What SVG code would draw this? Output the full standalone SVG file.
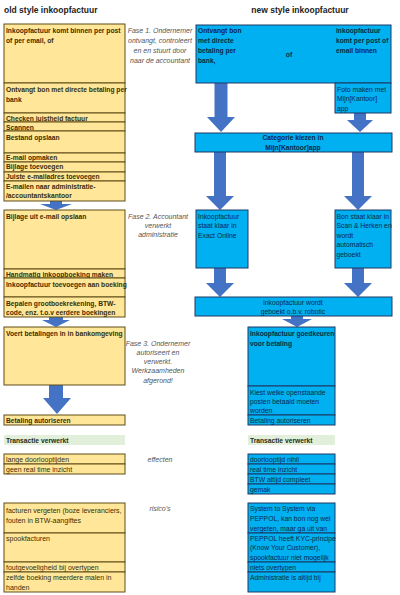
<svg xmlns="http://www.w3.org/2000/svg" width="400" height="595" viewBox="0 0 400 595">
<style>
text{font-family:"Liberation Sans",Arial,sans-serif;}
.t{font-size:8.5px;font-weight:bold;fill:#222;}
.y{fill:#FFE699;stroke:#5e4d16;stroke-width:1;}
.b{fill:#00B0F0;stroke:#1f3864;stroke-width:1;}
.g{fill:#E2EFDA;stroke:none;}
.yb{font-size:6.7px;font-weight:bold;fill:#3a2e05;}
.yn{font-size:7px;fill:#3a2e05;}
.bb{font-size:6.7px;font-weight:bold;fill:#0b2a4a;}
.bn{font-size:6.8px;fill:#0b2a4a;}
.gb{font-size:6.7px;font-weight:bold;fill:#1e2e14;}
.ph{font-size:7px;font-style:italic;fill:#555;text-anchor:middle;}
.c{text-anchor:middle;}
.ar{fill:#4472C4;stroke:none;}
</style>
<text class="t" x="4" y="13">old style inkoopfactuur</text>
<text class="t c" x="300" y="13">new style inkoopfactuur</text>

<g id="connectors">
<path class="ar" d="M50,201 L62,201 L62,204 L72,204 L56,210 L40,204 L50,204 Z"/>
<path class="ar" d="M49,317 L63,317 L63,320 L70,320 L56,327 L42,320 L49,320 Z"/>
<path class="ar" d="M49,385 L63,385 L63,398 L71,398 L57,414 L43,398 L49,398 Z"/>
<path class="ar" d="M214.5,83 L227.5,83 L227.5,117 L235,117 L221,132 L207,117 L214.5,117 Z"/>
<path class="ar" d="M354,113 L366,113 L366,120 L373,120 L360,132 L347,120 L354,120 Z"/>
<path class="ar" d="M214,152 L226,152 L226,196 L234,196 L220,210 L206,196 L214,196 Z"/>
<path class="ar" d="M352,152 L364,152 L364,196 L372,196 L358,210 L344,196 L352,196 Z"/>
<path class="ar" d="M214,268 L226,268 L226,283 L234,283 L220,297 L206,283 L214,283 Z"/>
<path class="ar" d="M352,268 L364,268 L364,283 L372,283 L358,297 L344,283 L352,283 Z"/>
<path class="ar" d="M291,316 L303,316 L303,319 L312,319 L297,327 L282,319 L291,319 Z"/>
</g>

<g id="fase1"><text class="ph" x="160" y="32.5">Fase 1. Ondernemer</text><text class="ph" x="160" y="42.5">ontvangt, controleert</text><text class="ph" x="160" y="52.5">en  en stuurt door</text><text class="ph" x="160" y="62.5">naar de accountant</text></g>
<g id="fase2"><text class="ph" x="158" y="218.5">Fase 2. Accountant</text><text class="ph" x="158" y="227.5">verwerkt</text><text class="ph" x="158" y="236.5">administratie</text></g>
<g id="fase3"><text class="ph" x="158" y="345.5">Fase 3. Ondernemer</text><text class="ph" x="158" y="354.5">autoriseert en</text><text class="ph" x="158" y="363.5">verwerkt.</text><text class="ph" x="158" y="373">Werkzaamheden</text><text class="ph" x="158" y="382.5">afgerond!</text></g>
<g id="effecten"><text class="ph" x="160" y="462">effecten</text></g>
<g id="risicos"><text class="ph" x="160" y="510.5">risico's</text></g>

<g id="L1"><rect class="y" x="4" y="24" width="121" height="59"/><text class="yb" x="6" y="32.5">Inkoopfactuur komt binnen per post</text><text class="yb" x="6" y="42.5">of per email, of</text></g>
<g id="L2"><rect class="y" x="4" y="83" width="121" height="30"/><text class="yb" x="6" y="91.5">Ontvangt bon met directe betaling per</text><text class="yb" x="6" y="101.5">bank</text></g>
<g id="L3"><rect class="y" x="4" y="113" width="121" height="9"/><text class="yb" x="6" y="120.5">Checken juistheid factuur</text></g>
<g id="L4"><rect class="y" x="4" y="122" width="121" height="9"/><text class="yb" x="6" y="129.5">Scannen</text></g>
<g id="L5"><rect class="y" x="4" y="131" width="121" height="22"/><text class="yb" x="6" y="139.5">Bestand opslaan</text></g>
<g id="L6"><rect class="y" x="4" y="153" width="121" height="9"/><text class="yb" x="6" y="160">E-mail opmaken</text></g>
<g id="L7"><rect class="y" x="4" y="162" width="121" height="10"/><text class="yb" x="6" y="169">Bijlage toevoegen</text></g>
<g id="L8"><rect class="y" x="4" y="172" width="121" height="9"/><text class="yb" x="6" y="179">Juiste e-mailadres toevoegen</text></g>
<g id="L9"><rect class="y" x="4" y="181" width="121" height="20"/><text class="yb" x="6" y="188.5">E-mailen naar administratie-</text><text class="yb" x="6" y="197.5">/accountantskantoor</text></g>
<g id="L10"><rect class="y" x="4" y="210" width="121" height="59"/><text class="yb" x="6" y="218.5">Bijlage uit e-mail opslaan</text></g>
<g id="L11"><rect class="y" x="4" y="269" width="121" height="9"/><text class="yb" x="6" y="276.5">Handmatig inkoopboeking maken</text></g>
<g id="L12"><rect class="y" x="4" y="278" width="121" height="19"/><text class="yb" x="6" y="286.5">Inkoopfactuur toevoegen aan boeking</text></g>
<g id="L13"><rect class="y" x="4" y="297" width="121" height="20"/><text class="yb" x="6" y="306">Bepalen grootboekrekening, BTW-</text><text class="yb" x="6" y="315">code, enz. t.o.v eerdere boekingen</text></g>
<g id="L14"><rect class="y" x="4" y="327" width="121" height="58"/><text class="yb" x="6" y="335.5">Voert betalingen in in bankomgeving</text></g>
<g id="L15"><rect class="y" x="4" y="415" width="121" height="10"/><text class="yb" x="6" y="422.5">Betaling autoriseren</text></g>
<g id="L16"><rect class="g" x="4" y="435" width="121" height="10"/><text class="gb" x="6" y="442.5">Transactie verwerkt</text></g>
<g id="L17"><rect class="y" x="4" y="454" width="121" height="10"/><text class="yn" x="6" y="461.5">lange doorlooptijden</text></g>
<g id="L18"><rect class="y" x="4" y="464" width="121" height="10"/><text class="yn" x="6" y="471.5">geen real time inzicht</text></g>
<g id="L19"><rect class="y" x="4" y="503" width="121" height="30"/><text class="yn" x="6" y="512.5">facturen vergeten (boze leveranciers,</text><text class="yn" x="6" y="522.5">fouten in BTW-aangiftes</text></g>
<g id="L20"><rect class="y" x="4" y="533" width="121" height="29"/><text class="yn" x="6" y="540.5">spookfacturen</text></g>
<g id="L21"><rect class="y" x="4" y="562" width="121" height="10"/><text class="yn" x="6" y="569.5">foutgevoeligheid bij overtypen</text></g>
<g id="L22"><rect class="y" x="4" y="572" width="121" height="20"/><text class="yn" x="6" y="579.5">zelfde boeking meerdere malen in</text><text class="yn" x="6" y="589.5">handen</text></g>

<g id="R1"><rect class="b" x="196" y="25" width="195" height="58"/><text class="bb" x="198" y="32.5">Ontvangt bon</text><text class="bb" x="198" y="42.5">met directe</text><text class="bb" x="198" y="52.5">betaling per</text><text class="bb" x="198" y="62.5">bank,</text><text class="bb c" x="289" y="56.5">of</text><text class="bb" x="336" y="32.5">inkoopfactuur</text><text class="bb" x="336" y="42.5">komt per post of</text><text class="bb" x="336" y="52.5">email binnen</text></g>
<g id="R2"><rect class="b" x="335" y="83" width="56" height="30"/><text class="bn" x="337" y="91.5">Foto maken met</text><text class="bn" x="337" y="101">Mijn[Kantoor]</text><text class="bn" x="337" y="110.5">app</text></g>
<g id="R3"><rect class="b" x="195" y="133" width="197" height="19"/><text class="bb c" x="293" y="140">Categorie kiezen in</text><text class="bb c" x="293" y="149.5">Mijn[Kantoor]app</text></g>
<g id="R4"><rect class="b" x="196" y="210" width="52" height="58"/><text class="bn" x="198" y="218.5">Inkoopfactuur</text><text class="bn" x="198" y="228">staat klaar in</text><text class="bn" x="198" y="237.5">Exact Online</text></g>
<g id="R5"><rect class="b" x="335" y="210" width="56" height="58"/><text class="bn" x="336.5" y="218.5">Bon staat klaar in</text><text class="bn" x="336.5" y="228">Scan &amp; Herken en</text><text class="bn" x="336.5" y="237.5">wordt</text><text class="bn" x="336.5" y="247">automatisch</text><text class="bn" x="336.5" y="256.5">geboekt</text></g>
<g id="R6"><rect class="b" x="195" y="297" width="197" height="19"/><text class="bn c" x="293" y="305">inkoopfactuur wordt</text><text class="bn c" x="293" y="314">geboekt o.b.v. robotic</text></g>
<g id="R7"><rect class="b" x="248" y="327" width="87" height="59"/><text class="bb" x="250" y="335.5">Inkoopfactuur goedkeuren</text><text class="bb" x="250" y="345.5">voor betaling</text></g>
<g id="R8"><rect class="b" x="248" y="386" width="87" height="29"/><text class="bn" x="250" y="394.5">Kiest welke openstaande</text><text class="bn" x="250" y="404">posten betaald moeten</text><text class="bn" x="250" y="413">worden</text></g>
<g id="R9"><rect class="b" x="248" y="415" width="87" height="10"/><text class="bn" x="250" y="422.5">Betaling autoriseren</text></g>
<g id="R10"><rect class="g" x="248" y="435" width="87" height="10"/><text class="gb" x="250" y="442.5">Transactie verwerkt</text></g>
<g id="R11"><rect class="b" x="248" y="454" width="87" height="10"/><text class="bn" x="250" y="461.5">doorlooptijd nihil</text></g>
<g id="R12"><rect class="b" x="248" y="464" width="87" height="10"/><text class="bn" x="250" y="471.5">real time inzicht</text></g>
<g id="R13"><rect class="b" x="248" y="474" width="87" height="10"/><text class="bn" x="250" y="481.5">BTW altijd compleet</text></g>
<g id="R14"><rect class="b" x="248" y="484" width="87" height="10"/><text class="bn" x="250" y="491.5">gemak</text></g>
<g id="R15"><rect class="b" x="248" y="503" width="87" height="30"/><text class="bn" x="250" y="510.5">System to System via</text><text class="bn" x="250" y="520.5">PEPPOL, kan bon nog wel</text><text class="bn" x="250" y="530.5">vergeten, maar ga uit van</text></g>
<g id="R16"><rect class="b" x="248" y="533" width="87" height="29"/><text class="bn" x="250" y="540.5">PEPPOL heeft KYC-principe</text><text class="bn" x="250" y="550">(Know Your Customer),</text><text class="bn" x="250" y="559.5">spookfactuur niet mogelijk</text></g>
<g id="R17"><rect class="b" x="248" y="562" width="87" height="10"/><text class="bn" x="250" y="569.5">niets overtypen</text></g>
<g id="R18"><rect class="b" x="248" y="572" width="87" height="20"/><text class="bn" x="250" y="579.5">Administratie is altijd bij</text></g>
</svg>
